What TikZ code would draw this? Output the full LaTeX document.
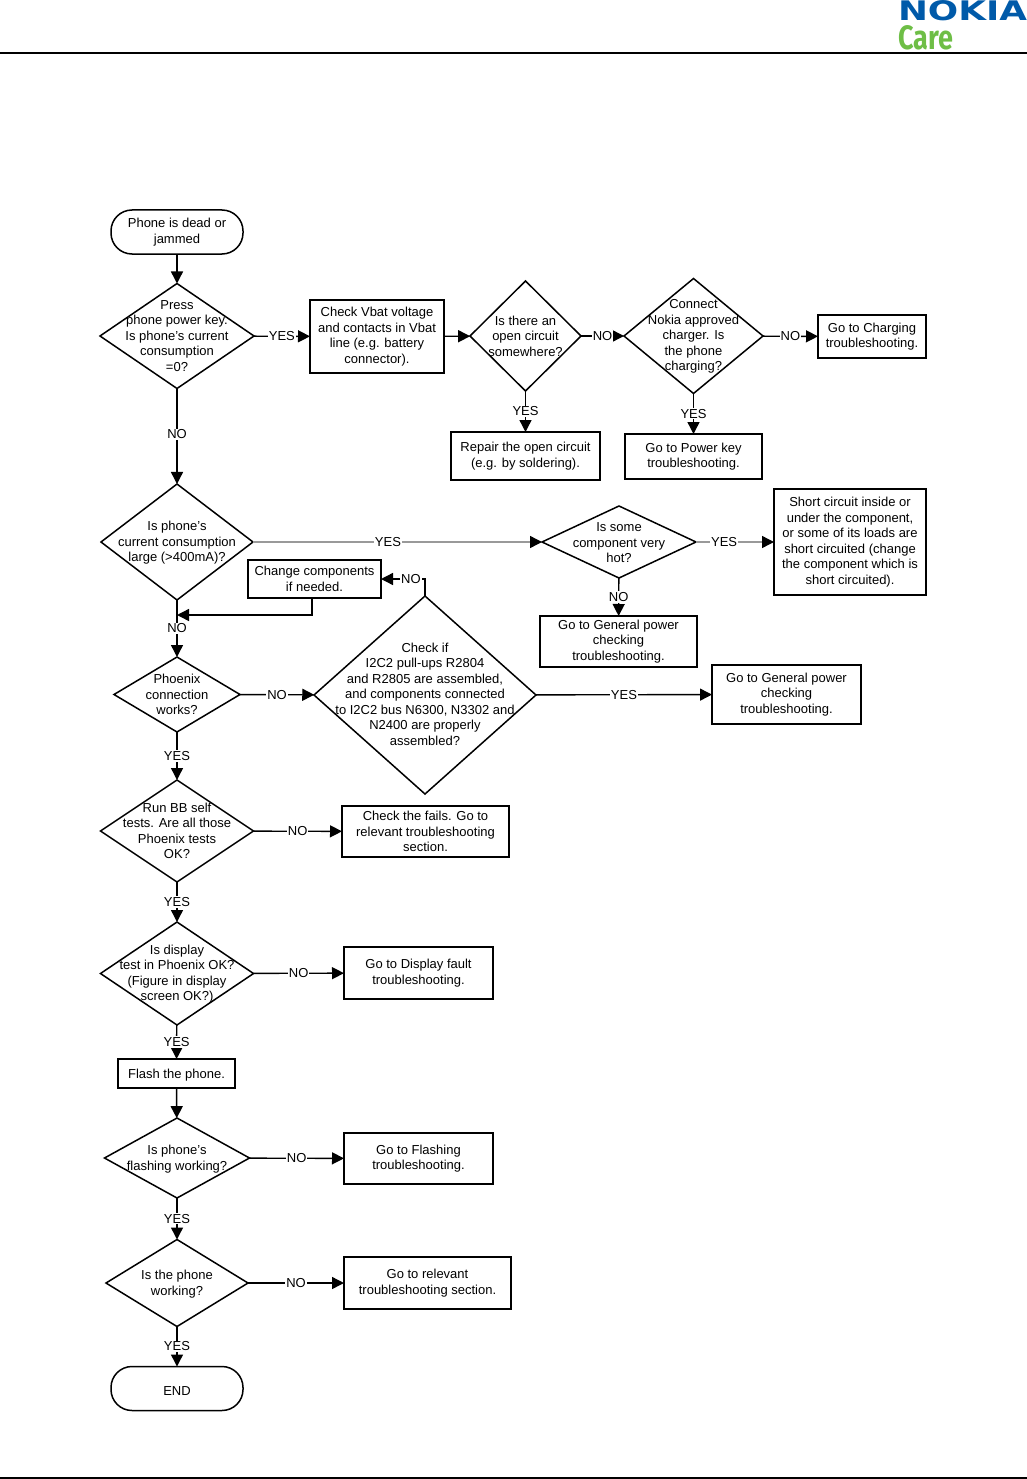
\documentclass[tikz,border=0pt]{standalone}
\usepackage{fontspec}
\setmainfont{Liberation Sans}
\newfontfamily\carefont{Fira Sans}
\newfontfamily\logofont{DejaVu Sans}
\usetikzlibrary{shapes.geometric,arrows.meta}
\definecolor{nokiablue}{RGB}{0,90,169}
\definecolor{caregreen}{RGB}{110,190,70}
\tikzset{
    every label/.style={align=center},
    outcome/.style={draw, line width=1.5pt, align=center, inner sep=0pt, outer sep=0pt, execute at begin node={\rule{0pt}{13pt}}},
    terminal/.style={outcome, minimum width=132, minimum height=44, rounded corners=21},
    decision/.style 2 args={diamond, draw, line width=1.5pt, inner sep=0pt, outer sep=0pt, minimum width=#1, minimum height=#2},
    answer/.style={fill=white, inner sep=1pt},
    flow/.style={line width=1.4pt, -{Triangle[length=12pt,width=12pt]}},
    flowgray/.style={line width=1.4pt, draw=gray!80, -{Triangle[length=12pt,width=12pt,color=black]}}
}

\begin{document}
\begin{tikzpicture}[x=1pt, y=-1pt, font=\fontsize{13}{15.5}\selectfont]
    \useasboundingbox (0,0) rectangle (1027,1479);
    % Page header and footer
    \draw[line width=2pt] (0,53) -- (1027,53);
    \draw[line width=2pt] (0,1478) -- (1027,1478);
    \node (nokia) at (962.5,11) [inner sep=0pt, text=nokiablue, font=\fontsize{20}{20}\selectfont\logofont\bfseries] {\resizebox{129pt}{20pt}{NOKIA}};
    \node (care) at (925.5,38) [inner sep=0pt, text=caregreen, font=\fontsize{20}{20}\selectfont\carefont\bfseries] {\resizebox{55pt}{24pt}{Care}};
    % Define nodes
    \node (start) at (177,232) [terminal] {Phone is dead or\\jammed};
    \node (keyd) at (177,336) [decision={154}{105}, label={center:Press\\phone power key.\\Is phone's current\\consumption\\=0?}] {};
    \node (vbat) at (377,336.5) [outcome, minimum width=134, minimum height=73] {Check Vbat voltage\\and contacts in Vbat\\line (e.g. battery\\connector).};
    \node (opend) at (525.5,336) [decision={111}{110}, label={center:Is there an\\open circuit\\somewhere?}] {};
    \node (chargerd) at (693.5,336) [decision={139}{115}, label={[yshift=-0.7pt]center:Connect\\Nokia approved\\charger. Is\\the phone\\charging?}] {};
    \node (charging) at (872,336.5) [outcome, minimum width=108, minimum height=43] {Go to Charging\\troubleshooting.};
    \node (repair) at (525.5,456) [outcome, minimum width=149, minimum height=48] {Repair the open circuit\\(e.g. by soldering).};
    \node (powerkey) at (693.5,456.5) [outcome, minimum width=137, minimum height=45] {Go to Power key\\troubleshooting.};
    \node (larged) at (177,542) [decision={152}{116}, label={[yshift=-1pt]center:Is phone's\\current consumption\\large (>400mA)?}] {};
    \node (hotd) at (619,542) [decision={154}{72}, label={[yshift=-0.7pt]center:Is some\\component very\\hot?}] {};
    \node (short) at (850,542) [outcome, minimum width=152, minimum height=106] {Short circuit inside or\\under the component,\\or some of its loads are\\short circuited (change\\the component which is\\short circuited).};
    \node (change) at (314.5,579) [outcome, minimum width=133, minimum height=38] {Change components\\if needed.};
    \node (generalA) at (618.5,641.5) [outcome, minimum width=157, minimum height=51] {Go to General power\\checking\\troubleshooting.};
    \node (phoenixd) at (177,694.5) [decision={126}{75}, label={center:Phoenix\\connection\\works?}] {};
    \node (i2cd) at (425,695) [decision={222}{198}, label={[yshift=0.7pt]center:Check if\\I2C2 pull-ups R2804\\and R2805 are assembled,\\and components connected\\to I2C2 bus N6300, N3302 and\\N2400 are properly\\assembled?}] {};
    \node (generalB) at (786.5,694.5) [outcome, minimum width=149, minimum height=59] {Go to General power\\checking\\troubleshooting.};
    \node (selfd) at (177,831) [decision={153}{102}, label={center:Run BB self\\tests. Are all those\\Phoenix tests\\OK?}] {};
    \node (fails) at (425.5,831.5) [outcome, minimum width=167, minimum height=51] {Check the fails. Go to\\relevant troubleshooting\\section.};
    \node (displayd) at (177,973.5) [decision={153}{103}, label={[yshift=-0.7pt]center:Is display\\test in Phoenix OK?\\(Figure in display\\screen OK?)}] {};
    \node (display) at (418.5,973) [outcome, minimum width=149, minimum height=52] {Go to Display fault\\troubleshooting.};
    \node (flash) at (176.5,1073.5) [outcome, minimum width=117, minimum height=29] {Flash the phone.};
    \node (flashd) at (177,1158) [decision={145}{80}, label={[yshift=-1pt]center:Is phone's\\flashing working?}] {};
    \node (flashing) at (418.5,1158.5) [outcome, minimum width=149, minimum height=51] {Go to Flashing\\troubleshooting.};
    \node (workd) at (177,1283) [decision={142}{87}, label={[yshift=-1pt]center:Is the phone\\working?}] {};
    \node (relevant) at (427.5,1283) [outcome, minimum width=167, minimum height=52] {Go to relevant\\troubleshooting section.};
    \node (stop) at (177,1388.5) [terminal] {END};
    \coordinate (join) at (177,615);
    % Draw arrows
    \draw[flow] (start) -- (keyd);
    \draw[flow] (keyd) -- (vbat) node[midway, answer] {YES};
    \draw[flow] (vbat) -- (opend);
    \draw[flow] (opend) -- (chargerd) node[midway, answer] {NO};
    \draw[flow] (chargerd) -- (charging) node[midway, answer] {NO};
    \draw[flow] (opend) -- (repair) node[midway, answer] {YES};
    \draw[flow] (chargerd) -- (powerkey) node[midway, answer] {YES};
    \draw[flow] (keyd) -- (larged) node[pos=0.48, answer] {NO};
    \draw[flowgray] (larged) -- (hotd) node[pos=0.467, answer] {YES};
    \draw[flowgray] (hotd) -- (short) node[pos=0.36, answer] {YES};
    \draw[flow] (hotd) -- (generalA) node[midway, answer] {NO};
    \draw[flow] (larged) -- (phoenixd) node[midway, answer] {NO};
    \draw[flow] (i2cd.north) |- (change.east) node[pos=0.66, answer] {NO};
    \draw[flow] ([xshift=-2.5pt]change.south) |- (join);
    \draw[flow] (phoenixd) -- (i2cd) node[midway, answer] {NO};
    \draw[flow] (i2cd) -- (generalB) node[midway, answer] {YES};
    \draw[flow] (phoenixd) -- (selfd) node[midway, answer] {YES};
    \draw[flow] (selfd) -- (fails) node[midway, answer] {NO};
    \draw[flow] (selfd) -- (displayd) node[midway, answer] {YES};
    \draw[flow] (displayd) -- (display) node[midway, answer] {NO};
    \draw[flow] (displayd) -- (flash) node[midway, answer] {YES};
    \draw[flow] (flash) -- (flashd);
    \draw[flow] (flashd) -- (flashing) node[midway, answer] {NO};
    \draw[flow] (flashd) -- (workd) node[midway, answer] {YES};
    \draw[flow] (workd) -- (relevant) node[midway, answer] {NO};
    \draw[flow] (workd) -- (stop) node[midway, answer] {YES};
\end{tikzpicture}
\end{document}
